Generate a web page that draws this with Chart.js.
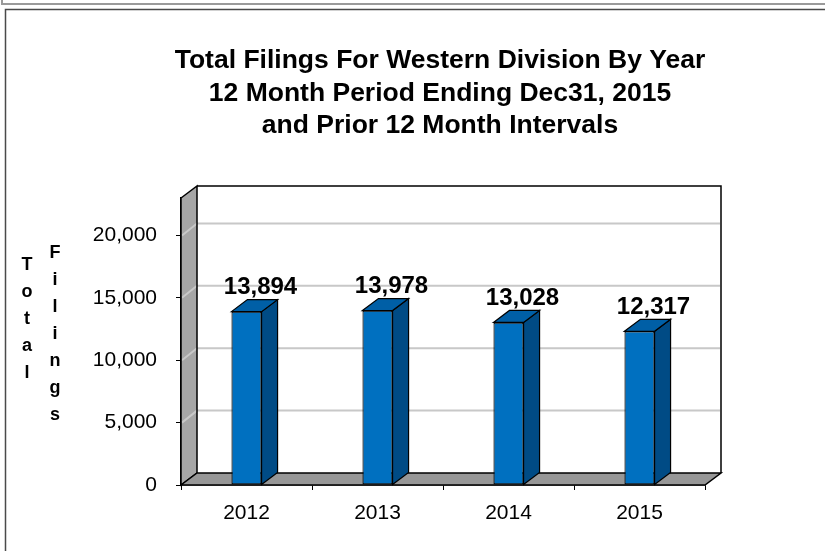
<!DOCTYPE html>
<html><head><meta charset="utf-8">
<script src="https://cdn.jsdelivr.net/npm/chart.js@4"></script>
<style>html,body{margin:0;padding:0;background:#fff;overflow:hidden}#wrap{width:825px;height:551px;position:relative}</style>
</head><body><div id="wrap"><canvas id="c" width="825" height="551"></canvas></div>
<script>
const years = ['2012', '2013', '2014', '2015'];
const filings = [13894, 13978, 13028, 12317];
const yTickValues = [0, 5000, 10000, 15000, 20000];
const yAxisMax = 23000;
const titleLines = ['Total Filings For Western Division By Year', '12 Month Period Ending Dec31, 2015', 'and Prior 12 Month Intervals'];
const yTitleWords = ['Total', 'Filings'];

const FONT = '"Liberation Sans", Arial, sans-serif';
const fmt = v => Number(v).toLocaleString('en-US');

function poly(ctx, pts, fill, stroke, lw) {
  ctx.beginPath();
  ctx.moveTo(pts[0][0], pts[0][1]);
  for (let i = 1; i < pts.length; i++) ctx.lineTo(pts[i][0], pts[i][1]);
  ctx.closePath();
  if (fill) { ctx.fillStyle = fill; ctx.fill(); }
  if (stroke) { ctx.strokeStyle = stroke; ctx.lineWidth = lw || 1; ctx.stroke(); }
}

const threeD = {
  id: 'threeD',
  beforeDraw(chart) {
    const ctx = chart.ctx;
    ctx.save();
    ctx.strokeStyle = '#9a9a9a'; ctx.lineWidth = 2;
    ctx.beginPath(); ctx.moveTo(2, 0); ctx.lineTo(2, 4); ctx.lineTo(825, 4); ctx.stroke();
    ctx.strokeStyle = '#4a4a4a'; ctx.lineWidth = 1.5;
    ctx.beginPath(); ctx.moveTo(5.5, 551); ctx.lineTo(5.5, 9.5); ctx.lineTo(825, 9.5); ctx.stroke();
    ctx.restore();
  },
  beforeDatasetsDraw(chart) {
    const { ctx, chartArea: a, scales: { y } } = chart;
    const dx = 16, dy = 12;
    const top = y.getPixelForValue(yAxisMax), bot = y.getPixelForValue(0);
    const bl = a.left + dx, bt = top - dy, br = a.right + dx, bb = bot - dy;
    ctx.save();
    ctx.fillStyle = '#fff'; ctx.fillRect(bl, bt, br - bl, bb - bt);
    poly(ctx, [[a.left, top], [bl, bt], [bl, bb], [a.left, bot]], '#A6A6A6');
    ctx.strokeStyle = '#C8C8C8'; ctx.lineWidth = 2;
    yTickValues.forEach(v => {
      if (v <= 0) return;
      const py = y.getPixelForValue(v);
      ctx.beginPath(); ctx.moveTo(a.left + 1, py); ctx.lineTo(bl, py - dy); ctx.lineTo(br - 1, py - dy); ctx.stroke();
    });
    poly(ctx, [[a.left, top], [bl, bt], [bl, bb], [a.left, bot]], null, '#000', 1.5);
    ctx.strokeStyle = '#000'; ctx.lineWidth = 1.5;
    ctx.beginPath(); ctx.moveTo(bl, bt); ctx.lineTo(br, bt); ctx.lineTo(br, bb); ctx.stroke();
    poly(ctx, [[a.left, bot], [bl, bb], [br, bb], [a.right, bot]], '#979797', '#000', 1.5);
    ctx.restore();
  },
  afterDatasetsDraw(chart) {
    const ctx = chart.ctx;
    const dx = 16, dy = 12;
    const meta = chart.getDatasetMeta(0);
    ctx.save();
    meta.data.forEach((bar, i) => {
      const l = bar.x - bar.width / 2, r = bar.x + bar.width / 2, t = bar.y, b = bar.base;
      poly(ctx, [[r, t], [r + dx, t - dy], [r + dx, b - dy], [r, b]], '#004B85', '#000', 1.2);
      poly(ctx, [[l, t], [l + dx, t - dy], [r + dx, t - dy], [r, t]], '#005FA6', '#000', 1.2);
    });
    ctx.fillStyle = '#000';
    ctx.font = 'bold 24px ' + FONT;
    ctx.textAlign = 'center'; ctx.textBaseline = 'middle';
    meta.data.forEach((bar, i) => {
      ctx.fillText(fmt(filings[i]), bar.x + 14, bar.y - 24);
    });
    ctx.restore();
  },
  afterDraw(chart) {
    const ctx = chart.ctx;
    ctx.save();
    ctx.fillStyle = '#000';
    ctx.font = 'bold 18px ' + FONT;
    ctx.textAlign = 'center'; ctx.textBaseline = 'alphabetic';
    const cols = [{ x: 27, y0: 270 }, { x: 55, y0: 258 }];
    yTitleWords.forEach((w, k) => {
      [...w].forEach((ch, i) => ctx.fillText(ch, cols[k].x, cols[k].y0 + 27 * i));
    });
    ctx.restore();
  }
};

new Chart(document.getElementById('c'), {
  type: 'bar',
  data: {
    labels: years,
    datasets: [{
      data: filings,
      backgroundColor: '#0070C0',
      borderColor: '#000',
      borderWidth: 1.2,
      borderSkipped: false,
      categoryPercentage: 1,
      barPercentage: 0.23
    }]
  },
  options: {
    responsive: false,
    animation: false,
    devicePixelRatio: 1,
    layout: { padding: { left: 55, right: 0, top: 0, bottom: 0 } },
    plugins: {
      legend: { display: false },
      tooltip: { enabled: false },
      title: {
        display: true,
        text: titleLines,
        color: '#000',
        font: { family: FONT, size: 26.5, weight: 'bold', lineHeight: 1.22 },
        padding: { top: 45, bottom: 56 }
      }
    },
    scales: {
      x: {
        offset: true,
        grid: { display: true, drawOnChartArea: false, drawTicks: true, tickLength: 5, tickColor: '#000', offset: true },
        border: { display: true, color: '#000', width: 1.5 },
        ticks: { color: '#000', font: { family: FONT, size: 21 }, padding: 11 },
        afterFit(s) { s.height = 66; }
      },
      y: {
        position: 'left',
        min: 0,
        max: yAxisMax,
        afterBuildTicks(s) { s.ticks = yTickValues.map(v => ({ value: v })); },
        grid: { display: true, drawOnChartArea: false, drawTicks: true, tickLength: 5, tickColor: '#000' },
        border: { display: true, color: '#000', width: 1.5 },
        ticks: { color: '#000', font: { family: FONT, size: 21 }, padding: 19, callback: v => fmt(v) },
        afterFit(s) { s.width = 126; }
      },
      yRight: {
        position: 'right',
        display: true,
        grid: { display: false },
        border: { display: false },
        ticks: { display: false },
        afterFit(s) { s.width = 120; }
      }
    }
  },
  plugins: [threeD]
});
</script>
</body></html>
